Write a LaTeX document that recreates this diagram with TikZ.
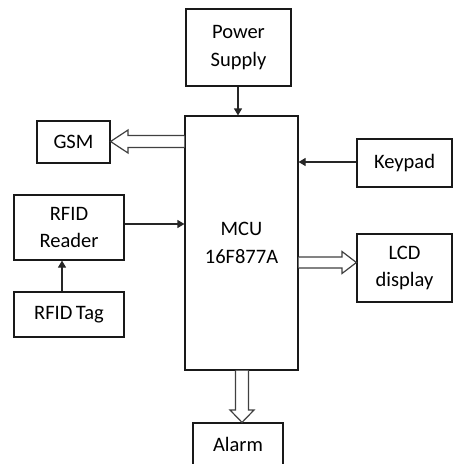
\documentclass[tikz,border=0pt]{standalone}
\usepackage{fontspec}
\setmainfont{Carlito}
\usetikzlibrary{arrows.meta}
\begin{document}
\begin{tikzpicture}[x=1pt,y=-1pt,
  box/.style={draw=black!90,line width=1.2pt,inner sep=0pt,align=center,
    font=\fontsize{20.5}{27.5}\selectfont},
  arr/.style={draw=black!85,line width=1.2pt,-{Triangle[length=7pt,width=8pt]}},
  hollow/.style={draw=black!75,line width=1.2pt,fill=white}]
\useasboundingbox (0,0) rectangle (453,464);
\node[box,minimum width=105pt,minimum height=77pt] (power) at (238.5,47.5) {Power\\Supply};
\node[box,minimum width=113pt,minimum height=254pt] (mcu) at (241.5,243) {MCU\\16F877A};
\node[box,minimum width=73pt,minimum height=42pt] (gsm) at (73.5,142) {GSM};
\node[box,minimum width=95pt,minimum height=48pt] (keypad) at (404.5,163) {Keypad};
\node[box,minimum width=110pt,minimum height=65pt] (reader) at (69,227.5) {RFID\\Reader};
\node[box,minimum width=110pt,minimum height=45pt] (tag) at (69,314.5) {RFID\,Tag};
\node[box,minimum width=95pt,minimum height=68pt] (lcd) at (404.5,268) {LCD\\display};
\node[box,minimum width=90pt,minimum height=42pt,text depth=0pt] (alarm) at (238,444) {Alarm};
% thin arrows
\draw[arr] ([xshift=-0.5pt]power.south) -- ([xshift=-0.5pt]power.south |- mcu.north);
\draw[arr] ([yshift=1pt]keypad.west) -- ([yshift=1pt]keypad.west -| mcu.east);
\draw[arr] ([yshift=3.5pt]reader.east) -- ([yshift=3.5pt]reader.east -| mcu.west);
\draw[arr] ([xshift=-7pt]tag.north) -- ([xshift=-7pt]reader.south);
% hollow arrows
\draw[hollow] (mcu.west |- 0,135.5) -- (128,135.5) -- (128,130) -- (gsm.east |- 0,141.5)
  -- (128,153) -- (128,147.5) -- (mcu.west |- 0,147.5);
\draw[hollow] (mcu.east |- 0,257) -- (342,257) -- (342,251.5) -- (lcd.west |- 0,262.5)
  -- (342,273.5) -- (342,268) -- (mcu.east |- 0,268);
\draw[hollow] (235.5,0 |- mcu.south) -- (235.5,410) -- (230,410) -- (alarm.north -| 242,0)
  -- (254,410) -- (248.5,410) -- (248.5,0 |- mcu.south);
\end{tikzpicture}
\end{document}
